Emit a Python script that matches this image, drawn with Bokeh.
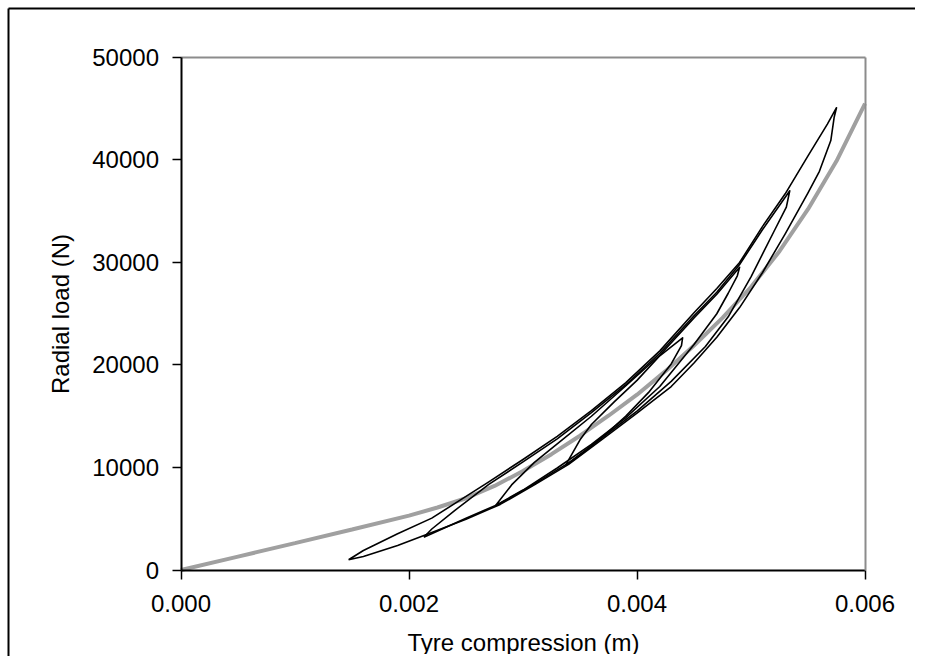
from bokeh.plotting import figure
from bokeh.models import FixedTicker, NumeralTickFormatter, Range1d, LinearAxis
from bokeh.embed import file_html
from bokeh.resources import INLINE

# Fitted (grey) curve: tyre compression (m) vs radial load (N)
fit_x = [0, 0.0005, 0.001, 0.0015, 0.002, 0.00225, 0.0025, 0.00275, 0.003, 0.00325,
         0.0035, 0.00375, 0.004, 0.00425, 0.0045, 0.00475, 0.005, 0.00525, 0.0055,
         0.00575, 0.006]
fit_F = [0, 1310, 2620, 3950, 5300, 6100, 7000, 8200, 9650, 11300,
         13100, 15050, 17100, 19400, 21900, 24600, 27600, 31100, 35200,
         39900, 45500]

# Measured hysteresis loops (black)
loop1_x = [0.00147, 0.0016, 0.0019, 0.0022, 0.0025, 0.0028, 0.0031, 0.0034, 0.0037, 0.0040,
           0.0043, 0.0045, 0.0047, 0.0049, 0.0051, 0.0053, 0.0055, 0.0056, 0.0057, 0.00573,
           0.00575,
           0.00567, 0.0055, 0.0053, 0.0051, 0.0049, 0.0047, 0.0045, 0.0042, 0.0039, 0.0036,
           0.0033, 0.0030, 0.0027, 0.0024, 0.0022, 0.0019, 0.0016, 0.00147]
loop1_F = [1000, 1320, 2400, 3650, 4950, 6400, 8300, 10300, 12800, 15300,
           17900, 20200, 22700, 25600, 29000, 32800, 36800, 38900, 41900, 44200,
           45100,
           43500, 40400, 36700, 33500, 30000, 27470, 25100, 21380, 18260, 15550,
           13040, 10780, 8600, 6480, 5060, 3530, 1900, 1000]

loop2_x = [0.00213, 0.0025, 0.0028, 0.0031, 0.0034, 0.0037, 0.0040, 0.0043, 0.0046, 0.0048,
           0.0050, 0.0052, 0.00531, 0.00534, 0.0051, 0.0049, 0.0047, 0.0045, 0.0042, 0.0039,
           0.0036, 0.0033, 0.0030, 0.0027, 0.0024, 0.0022, 0.00213]
loop2_F = [3200, 5050, 6500, 8400, 10450, 12950, 15500, 18400, 21800, 24700,
           28600, 33000, 35400, 37000, 33200, 29800, 27100, 24800, 21150, 18050,
           15350, 12800, 10550, 8350, 5800, 4000, 3200]

loop3_x = [0.00276, 0.0030, 0.0033, 0.0036, 0.0039, 0.0042, 0.0045, 0.0047, 0.0048, 0.00488,
           0.0049, 0.0047, 0.0045, 0.0042, 0.0039, 0.0036, 0.0033, 0.0031, 0.0029, 0.00276]
loop3_F = [6290, 7800, 9950, 12250, 14850, 17900, 22000, 25000, 27000, 28700,
           29540, 26900, 24600, 20950, 17950, 15000, 12300, 10500, 8300, 6290]

loop4_x = [0.003373, 0.0035, 0.0037, 0.0039, 0.0041, 0.0043, 0.00439, 0.0044,
           0.0042, 0.0040, 0.0038, 0.0036, 0.0035, 0.003373]
loop4_F = [10200, 11200, 13000, 15000, 17300, 20100, 21900, 22650,
           20900, 18500, 16400, 14200, 12700, 10200]

x_ticks = [0, 0.002, 0.004, 0.006]
y_ticks = [0, 10000, 20000, 30000, 40000, 50000]
X_MIN, X_MAX = 0, 0.006
Y_MIN, Y_MAX = 0, 50000

FONT = "Liberation Sans"

# The frame fills the chart area; the value ranges are padded so the
# plot box sits where it does in the original picture.
XR = Range1d(-0.0015395, 0.0064605)
YR = Range1d(-8439, 55073)
BORDER_X = -0.0015132   # outer chart-area border, left edge
BORDER_Y = 54780        # outer chart-area border, top edge

p = figure(width=917, height=656, output_backend="svg", toolbar_location=None,
           x_range=XR, y_range=YR, x_axis_type=None, y_axis_type=None,
           min_border_left=5, min_border_top=5, min_border_right=0, min_border_bottom=0)
p.grid.visible = False
p.outline_line_color = "white"
p.outline_line_width = 3
p.background_fill_color = "white"
p.border_fill_color = "white"

p.line(fit_x, fit_F, line_color="#a0a0a0", line_width=4)
for xs, fs in [(loop1_x, loop1_F), (loop2_x, loop2_F), (loop3_x, loop3_F), (loop4_x, loop4_F)]:
    p.line(xs, fs, line_color="black", line_width=1.6, line_join="round")


def plain_axis(loc, color, width, bounds="auto"):
    return LinearAxis(fixed_location=loc, bounds=bounds, ticker=FixedTicker(ticks=[]),
                      axis_line_color=color, axis_line_width=width,
                      major_tick_line_color=None, minor_tick_line_color=None,
                      major_label_text_font_size="0px")


# outer chart-area border (left and top edges)
p.add_layout(plain_axis(BORDER_X, "black", 2, (YR.start, BORDER_Y)), "left")
p.add_layout(plain_axis(BORDER_Y, "black", 2, (BORDER_X, XR.end)), "above")
# grey plot-box edges (top and right)
p.add_layout(plain_axis(Y_MAX, "#8c8c8c", 2, (X_MIN, X_MAX)), "above")
p.add_layout(plain_axis(X_MAX, "#8c8c8c", 2, (Y_MIN, Y_MAX)), "right")

xaxis = LinearAxis(fixed_location=Y_MIN, bounds=(X_MIN, X_MAX),
                   ticker=FixedTicker(ticks=x_ticks),
                   formatter=NumeralTickFormatter(format="0.000"),
                   axis_label="Tyre compression (m)")
yaxis = LinearAxis(fixed_location=X_MIN, bounds=(Y_MIN, Y_MAX),
                   ticker=FixedTicker(ticks=y_ticks),
                   formatter=NumeralTickFormatter(format="0"),
                   axis_label="Radial load (N)")
for ax in (xaxis, yaxis):
    ax.axis_line_color = "black"
    ax.axis_line_width = 2
    ax.major_tick_line_color = "black"
    ax.major_tick_line_width = 1.5
    ax.major_tick_out = 9
    ax.major_tick_in = 0
    ax.minor_tick_line_color = None
    ax.major_label_text_font = FONT
    ax.major_label_text_font_size = "24px"
    ax.major_label_text_color = "black"
    ax.axis_label_text_font = FONT
    ax.axis_label_text_font_size = "24px"
    ax.axis_label_text_font_style = "normal"
    ax.axis_label_text_color = "black"
xaxis.major_label_standoff = 16
yaxis.major_label_standoff = 13
xaxis.axis_label_standoff = 13
yaxis.axis_label_standoff = 16
p.add_layout(xaxis, "below")
p.add_layout(yaxis, "left")

# white cover lines along the right and bottom canvas edges
p.add_layout(plain_axis(XR.end, "white", 5), "right")
p.add_layout(plain_axis(YR.start, "white", 5), "below")

open("out.html", "w").write(file_html(p, INLINE))
